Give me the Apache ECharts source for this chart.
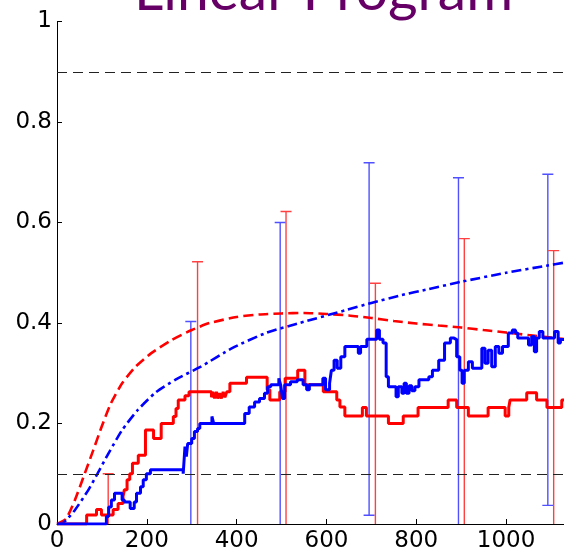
<!DOCTYPE html>
<html><head><meta charset="utf-8">
<script src="https://cdn.jsdelivr.net/npm/echarts@6/dist/echarts.min.js"></script>
<style>html,body{margin:0;padding:0;background:#fff}#c{width:564px;height:556px}</style>
</head><body><div id="c"></div>
<script>
// ---------- data ----------
const titleText = 'Linear Program';
const xMin = 0, xMax = 1129, xStep = 200;
const yMin = 0, yMax = 1, yStep = 0.2;
const thresholds = [0.1, 0.9];

// red dashed curve
const redDashX = [0, 20, 40, 60, 80, 100, 120, 145, 175, 210, 255, 300, 340, 400, 450, 500, 550, 600, 650, 700, 750, 800, 850, 900, 950, 1000, 1050, 1100, 1129];
const redDashY = [0, 0.01, 0.048, 0.096, 0.145, 0.195, 0.24, 0.28, 0.313, 0.34, 0.366, 0.386, 0.4, 0.412, 0.417, 0.419, 0.42, 0.418, 0.415, 0.41, 0.404, 0.399, 0.395, 0.391, 0.386, 0.381, 0.376, 0.371, 0.368];

// blue dash-dot curve
const blueDashX = [0, 15, 40, 70, 90, 115, 145, 180, 220, 265, 320, 390, 465, 540, 645, 700, 765, 825, 900, 1000, 1090, 1129];
const blueDashY = [0, 0.003, 0.028, 0.068, 0.1, 0.141, 0.187, 0.227, 0.262, 0.288, 0.313, 0.35, 0.38, 0.4, 0.426, 0.44, 0.455, 0.467, 0.482, 0.5, 0.514, 0.52];

// red solid step line (value starts at x)
const redStepX = [0, 66, 88, 99, 125, 136, 147, 150, 156, 162, 168, 181, 197, 215, 232, 259, 265, 270, 285, 294, 344, 347, 351, 355, 358, 362, 366, 370, 374, 378, 385, 422, 468, 474, 496, 508, 536, 552, 593, 623, 630, 641, 680, 689, 738, 771, 804, 871, 890, 916, 960, 998, 1006, 1009, 1046, 1068, 1091, 1124, 1129];
const redStepY = [0, 0.018, 0.029, 0.018, 0.029, 0.041, 0.055, 0.068, 0.088, 0.1, 0.121, 0.137, 0.187, 0.17, 0.2, 0.214, 0.23, 0.247, 0.255, 0.263, 0.252, 0.263, 0.25, 0.263, 0.25, 0.26, 0.25, 0.263, 0.252, 0.263, 0.28, 0.292, 0.267, 0.247, 0.263, 0.29, 0.306, 0.277, 0.263, 0.247, 0.233, 0.215, 0.232, 0.215, 0.2, 0.215, 0.232, 0.247, 0.232, 0.215, 0.232, 0.215, 0.232, 0.247, 0.261, 0.247, 0.232, 0.247, 0.247];

// blue solid step line (value starts at x)
const blueStepX = [0, 110, 115, 121, 128, 145, 150, 163, 172, 177, 186, 192, 199, 208, 281, 285, 288, 291, 300, 306, 313, 318, 345, 349, 418, 428, 440, 451, 462, 469, 476, 494, 498, 502, 507, 520, 535, 548, 556, 562, 592, 598, 607, 611, 617, 624, 632, 641, 671, 676, 690, 712, 718, 726, 733, 738, 755, 760, 768, 773, 778, 784, 790, 797, 806, 828, 836, 850, 863, 876, 884, 890, 897, 902, 907, 916, 925, 946, 953, 960, 968, 976, 984, 992, 1005, 1014, 1021, 1026, 1050, 1057, 1063, 1068, 1074, 1082, 1108, 1116, 1121, 1129];
const blueStepY = [0, 0.015, 0.034, 0.048, 0.061, 0.048, 0.044, 0.031, 0.044, 0.061, 0.074, 0.088, 0.1, 0.108, 0.1, 0.154, 0.134, 0.16, 0.17, 0.184, 0.19, 0.2, 0.214, 0.2, 0.22, 0.233, 0.243, 0.25, 0.26, 0.273, 0.277, 0.29, 0.277, 0.25, 0.277, 0.283, 0.287, 0.277, 0.267, 0.277, 0.29, 0.267, 0.28, 0.306, 0.326, 0.31, 0.333, 0.353, 0.34, 0.353, 0.3675, 0.386, 0.3675, 0.36, 0.293, 0.273, 0.253, 0.273, 0.26, 0.28, 0.26, 0.275, 0.265, 0.273, 0.287, 0.293, 0.306, 0.326, 0.36, 0.37, 0.367, 0.333, 0.306, 0.28, 0.306, 0.323, 0.31, 0.35, 0.32, 0.346, 0.313, 0.353, 0.34, 0.353, 0.38, 0.386, 0.38, 0.37, 0.356, 0.373, 0.343, 0.37, 0.383, 0.37, 0.383, 0.36, 0.367, 0.367];

// error bars: x, low, high (low < 0 runs off the axis)
const blueErrX = [298, 497, 695, 894, 1093];
const blueErrLo = [-0.05, -0.05, 0.0175, -0.05, 0.037];
const blueErrHi = [0.403, 0.6, 0.719, 0.689, 0.696];
const redErrX = [114, 313, 510, 709, 907, 1106];
const redErrLo = [-0.05, -0.05, -0.05, -0.05, -0.05, -0.05];
const redErrHi = [0.1, 0.522, 0.622, 0.479, 0.568, 0.544];

// ---------- chart ----------
const zip = (xs, ys) => xs.map((x, i) => [x, ys[i]]);
const errData = (xs, lo, hi) => xs.map((x, i) => [x, lo[i], hi[i]]);

function errRender(color) {
  return function (params, api) {
    const x = api.value(0), lo = api.value(1), hi = api.value(2);
    const top = api.coord([x, hi]);
    const bot = api.coord([x, Math.max(lo, 0)]);
    const hw = 5.5;
    const st = { stroke: color, lineWidth: 1.4 };
    const ch = [
      { type: 'line', shape: { x1: top[0], y1: top[1], x2: bot[0], y2: bot[1] }, style: st },
      { type: 'line', shape: { x1: top[0] - hw, y1: top[1], x2: top[0] + hw, y2: top[1] }, style: st }
    ];
    if (lo >= 0) ch.push({ type: 'line', shape: { x1: bot[0] - hw, y1: bot[1], x2: bot[0] + hw, y2: bot[1] }, style: st });
    return { type: 'group', children: ch };
  };
}

const chart = echarts.init(document.getElementById('c'), null, { renderer: 'canvas' });
const labelFont = { fontFamily: 'DejaVu Sans', fontSize: 23, color: '#000' };
chart.setOption({
  animation: false,
  backgroundColor: '#fff',
  grid: { left: 57, right: 0, top: 21.5, bottom: 32, containLabel: false },
  graphic: [{
    type: 'text', x: 323.5, y: -8, z: 100,
    style: { text: titleText, fill: '#660066', font: '57px Lato', textAlign: 'center', textVerticalAlign: 'middle' }
  }],
  xAxis: {
    type: 'value', min: xMin, max: xMax, interval: xStep,
    splitLine: { show: false },
    axisLine: { show: true, lineStyle: { color: '#000', width: 1 } },
    axisTick: { show: true, inside: true, length: 5, lineStyle: { color: '#000' } },
    axisLabel: Object.assign({ margin: 6, showMaxLabel: false, formatter: v => String(v) }, labelFont)
  },
  yAxis: {
    type: 'value', min: yMin, max: yMax, interval: yStep,
    splitLine: { show: false },
    axisLine: { show: true, lineStyle: { color: '#000', width: 1 } },
    axisTick: { show: true, inside: true, length: 5, lineStyle: { color: '#000' } },
    axisLabel: Object.assign({ margin: 5 }, labelFont)
  },
  series: [
    {
      type: 'line', data: [], silent: true,
      markLine: {
        silent: true, symbol: 'none', label: { show: false },
        lineStyle: { color: '#222', width: 1, type: [10, 6] },
        data: thresholds.map(v => ({ yAxis: v }))
      }
    },
    { type: 'custom', data: errData(blueErrX, blueErrLo, blueErrHi), renderItem: errRender('#5050ff'), encode: { x: 0, y: [1, 2] }, z: 3, clip: true },
    { type: 'custom', data: errData(redErrX, redErrLo, redErrHi), renderItem: errRender('#ff4040'), encode: { x: 0, y: [1, 2] }, z: 3, clip: true },
    { type: 'line', data: zip(redDashX, redDashY), smooth: 0.2, showSymbol: false, lineStyle: { color: '#ff0000', width: 2.6, type: [10, 5] }, z: 4 },
    { type: 'line', data: zip(blueDashX, blueDashY), smooth: 0.2, showSymbol: false, lineStyle: { color: '#0000ff', width: 2.6, type: [10, 4, 3, 4] }, z: 4 },
    { type: 'line', data: zip(redStepX, redStepY), step: 'end', showSymbol: false, lineStyle: { color: '#ff0000', width: 3 }, z: 5 },
    { type: 'line', data: zip(blueStepX, blueStepY), step: 'end', showSymbol: false, lineStyle: { color: '#0000ff', width: 3 }, z: 6 }
  ]
});
</script>
</body></html>
